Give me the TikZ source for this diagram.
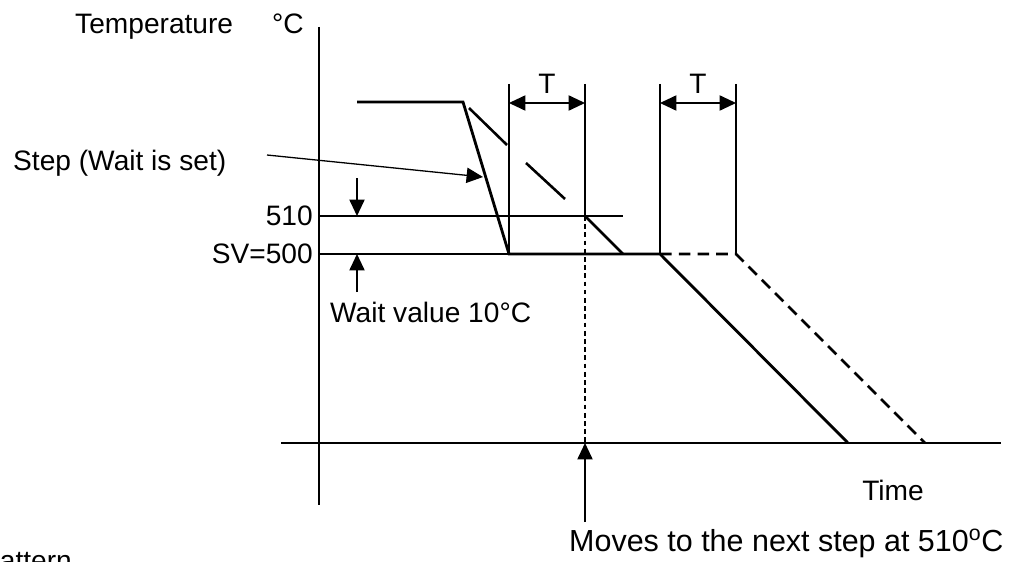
\documentclass[tikz,border=0pt]{standalone}
\usepackage{fontspec}
\setmainfont{Liberation Sans}
\usetikzlibrary{arrows.meta}
\tikzset{
  thinline/.style={line width=1.1pt},
  thickline/.style={line width=2.4pt},
  dimarrow/.style={thinline,-{Triangle[length=14pt,width=13pt]}},
  dimboth/.style={thinline,{Triangle[length=14pt,width=13pt]}-{Triangle[length=14pt,width=13pt]}},
  lbl/.style={inner sep=0pt,font=\fontsize{24}{28}\selectfont}
}
\begin{document}
\begin{tikzpicture}[x=0.03cm,y=-0.03cm]
\useasboundingbox (0,0) rectangle (1009,562);
\clip (0,0) rectangle (1009,562);
% axes
\draw[thinline] (319,27) -- (319,505);
\draw[thinline] (281,443) -- (1001,443);
\node[lbl,anchor=base west] (temp) at (75,34) {Temperature};
\node[lbl,anchor=base west] (unit) at (272,34) {°C};
\node[lbl] (time) at (893,490) {Time};
% levels
\draw[thinline] (319,216) -- (623,216);
\draw[thinline] (319,254) -- (509,254);
\node[lbl,anchor=east] (v510) at (313,216) {510};
\node[lbl,anchor=east] (sv) at (313,254) {SV=500};
% program profile
\draw[thickline] (357,102) -- (463,102) -- (509,254) -- (660,254) -- (848,443);
\draw[thickline,dash pattern=on 10pt off 6pt] (660,254) -- (736,254) -- (925,443);
% actual temperature
\draw[line width=2.2pt] (469,108) -- (507,145);
\draw[line width=2.2pt] (526,163) -- (565,199);
\draw[line width=2.2pt] (585,216) -- (623,254);
% time T
\draw[thinline] (509,84) -- (509,254);
\draw[thinline] (585,84) -- (585,216);
\draw[thinline,dash pattern=on 4pt off 3pt] (585,216) -- (585,443);
\draw[thinline] (660,84) -- (660,254);
\draw[thinline] (736,84) -- (736,254);
\draw[dimboth] (509,103) -- (585,103);
\draw[dimboth] (660,103) -- (736,103);
\node[lbl] (t1) at (547,84) {T};
\node[lbl] (t2) at (698,84) {T};
% wait value
\draw[dimarrow] (357,178) -- (357,216);
\draw[dimarrow] (357,292) -- (357,254);
\node[lbl,anchor=west] (wait) at (330,312) {Wait value 10°C};
% step label
\node[lbl,anchor=west] (step) at (13,163) {Step (Wait is set)};
\coordinate (steptip) at (483,177);
\draw[dimarrow] (267,155) -- (steptip);
% next step
\draw[dimarrow] (585,522) -- (585,443);
\node[lbl,anchor=base west,font=\fontsize{26}{30}\selectfont] (moves) at (569,551) {Moves to the next step at 510\textsuperscript{o}C};
\node[lbl,anchor=base west] (patt) at (-16,570) {pattern};
\end{tikzpicture}
\end{document}
